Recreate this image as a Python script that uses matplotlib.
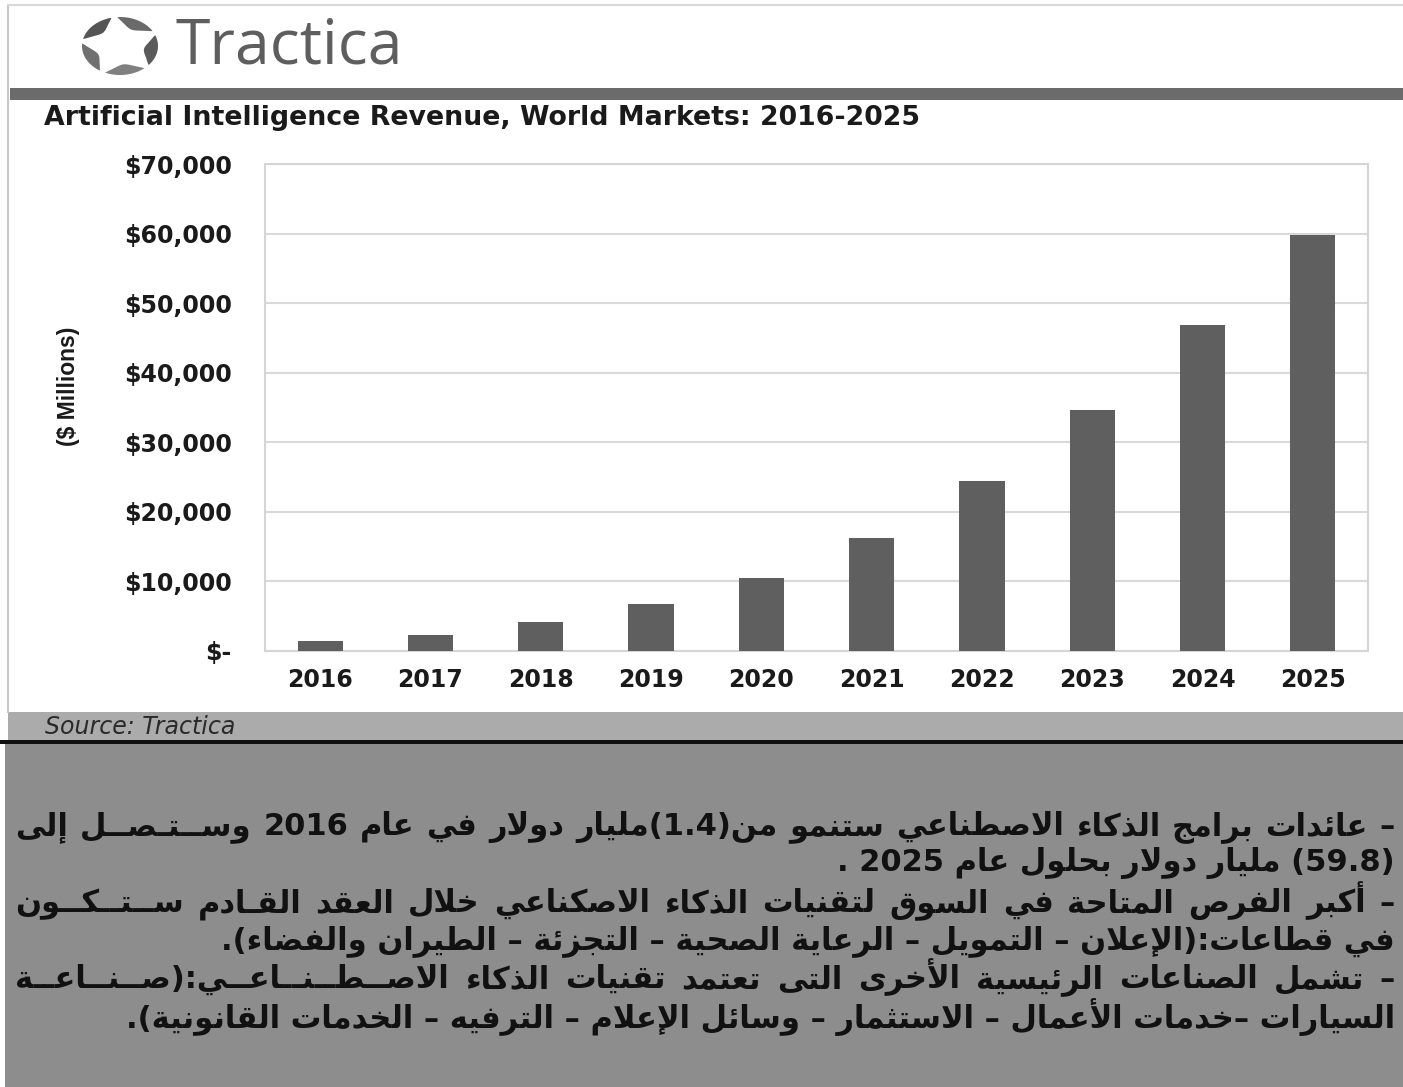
import re
import numpy as np
import matplotlib
matplotlib.use("Agg")
import matplotlib.pyplot as plt
from matplotlib.patches import Rectangle, Polygon

# ---------------- data ----------------
years = ['2016', '2017', '2018', '2019', '2020', '2021', '2022', '2023', '2024', '2025']
revenue = [1400, 2300, 4100, 6700, 10500, 16300, 24400, 34600, 46800, 59800]
y_ticks = [0, 10000, 20000, 30000, 40000, 50000, 60000, 70000]
y_tick_labels = ['$-', '$10,000', '$20,000', '$30,000', '$40,000', '$50,000', '$60,000', '$70,000']
title = 'Artificial Intelligence Revenue, World Markets: 2016-2025'
y_label = '($ Millions)'
source = 'Source: Tractica'
brand = 'Tractica'
arabic_lines = [
    '– عائدات برامج الذكاء الاصطناعي ستنمو من(1.4)مليار دولار في عام 2016 وســتـصــل إلى',
    '(59.8) مليار دولار بحلول عام 2025 .',
    '– أكبر الفرص المتاحة في السوق لتقنيات الذكاء الاصكناعي خلال العقد القـادم ســتــكــون',
    'في قطاعات:(الإعلان – التمويل – الرعاية الصحية – التجزئة – الطيران والفضاء).',
    '– تشمل الصناعات الرئيسية الأخرى التى تعتمد تقنيات الذكاء الاصــطــنــاعــي:(صــنــاعــة',
    'السيارات –خدمات الأعمال – الاستثمار – وسائل الإعلام – الترفيه – الخدمات القانونية).',
]
justified = [True, False, True, False, True, False]

# ---------------- minimal Arabic shaping + RTL ordering ----------------
_R = {'\u0622': 0xFE81, '\u0623': 0xFE83, '\u0624': 0xFE85, '\u0625': 0xFE87, '\u0627': 0xFE8D,
      '\u0629': 0xFE93, '\u062F': 0xFEA9, '\u0630': 0xFEAB, '\u0631': 0xFEAD, '\u0632': 0xFEAF,
      '\u0648': 0xFEED, '\u0649': 0xFEEF}
_D = {'\u0626': 0xFE89, '\u0628': 0xFE8F, '\u062A': 0xFE95, '\u062B': 0xFE99, '\u062C': 0xFE9D,
      '\u062D': 0xFEA1, '\u062E': 0xFEA5, '\u0633': 0xFEB1, '\u0634': 0xFEB5, '\u0635': 0xFEB9,
      '\u0636': 0xFEBD, '\u0637': 0xFEC1, '\u0638': 0xFEC5, '\u0639': 0xFEC9, '\u063A': 0xFECD,
      '\u0641': 0xFED1, '\u0642': 0xFED5, '\u0643': 0xFED9, '\u0644': 0xFEDD, '\u0645': 0xFEE1,
      '\u0646': 0xFEE5, '\u0647': 0xFEE9, '\u064A': 0xFEF1}
_LA = {'\u0622': 0xFEF5, '\u0623': 0xFEF7, '\u0625': 0xFEF9, '\u0627': 0xFEFB}
_MIRROR = {'(': ')', ')': '('}


def _shape(s):
    toks = []
    i = 0
    while i < len(s):
        c = s[i]
        if c == '\u0644' and i + 1 < len(s) and s[i + 1] in _LA:
            toks.append(('LA', s[i + 1]))
            i += 2
        else:
            toks.append(('C', c))
            i += 1

    def jt(t):
        k, c = t
        if k == 'LA':
            return 'R'
        if c in _D:
            return 'D'
        if c in _R:
            return 'R'
        if c == '\u0640':
            return 'T'
        return 'U'

    types = [jt(t) for t in toks]
    out = []
    for i, (k, c) in enumerate(toks):
        t = types[i]
        prev_t = types[i - 1] if i > 0 else 'U'
        next_t = types[i + 1] if i + 1 < len(toks) else 'U'
        jp = t in ('D', 'R', 'T') and prev_t in ('D', 'T')
        jn = t in ('D', 'T') and next_t in ('D', 'R', 'T')
        if k == 'LA':
            out.append(chr(_LA[c] + (1 if jp else 0)))
        elif t == 'D':
            b = _D[c]
            if jp and jn:
                out.append(chr(b + 3))
            elif jp:
                out.append(chr(b + 1))
            elif jn:
                out.append(chr(b + 2))
            else:
                out.append(chr(b))
        elif t == 'R':
            out.append(chr(_R[c] + (1 if jp else 0)))
        elif c == '\u0621':
            out.append('\uFE80')
        else:
            out.append(c)
    return ''.join(out)


def rtl(s):
    s = _shape(s)
    runs = re.split(r'([0-9]+(?:[.,][0-9]+)*)', s)
    vis = []
    for k, r in enumerate(runs):
        if k % 2 == 1:
            vis.append(r)
        else:
            vis.append(''.join(_MIRROR.get(ch, ch) for ch in reversed(r)))
    return ''.join(reversed(vis))


# ---------------- figure ----------------
W, H = 1403, 1087
fig = plt.figure(figsize=(W / 100, H / 100), dpi=100)
fig.patch.set_facecolor('white')
renderer = fig.canvas.get_renderer()

bg = fig.add_axes([0, 0, 1, 1], zorder=0)
bg.set_xlim(0, W)
bg.set_ylim(H, 0)
bg.axis('off')

# upper frame
bg.plot([8, 8], [5, 712], color='#c8c8c8', lw=1.5)
bg.plot([8, W], [5, 5], color='#d8d8d8', lw=1.5)
# dark header band
bg.add_patch(Rectangle((10, 88), W - 10, 12, facecolor='#6b6b6b', edgecolor='none'))
# source band
bg.add_patch(Rectangle((8, 712), W - 8, 29, facecolor='#ababab', edgecolor='none'))
# black separator
bg.add_patch(Rectangle((0, 740), W, 4, facecolor='#111111', edgecolor='none'))
# lower gray panel
bg.add_patch(Rectangle((5, 744), W - 5, H - 744, facecolor='#8d8d8d', edgecolor='none'))

# logo: five lens-shaped blades arranged in an elliptical ring
cx, cy, rx, ry = 120, 46, 38, 29
shades = ['#555555', '#707070', '#808080', '#5a5a5a', '#6a6a6a']
for k in range(5):
    a0 = np.deg2rad(103 + k * 72)
    t = np.linspace(0, 1, 40)
    ang = a0 + t * np.deg2rad(63)
    thick = 0.36 * np.sin(np.pi * t) ** 0.8
    ox, oy = cx + rx * np.cos(ang), cy - ry * np.sin(ang)
    ix = cx + rx * (1 - thick) * np.cos(ang[::-1])
    iy = cy - ry * (1 - thick) * np.sin(ang[::-1])
    pts = np.column_stack([np.concatenate([ox, ix]), np.concatenate([oy, iy])])
    bg.add_patch(Polygon(pts, closed=True, facecolor=shades[k], edgecolor='none'))

bg.text(176, 47, brand, fontsize=45, family='Open Sans', color='#5e5e5e',
        va='center', ha='left')

bg.text(44, 118, title, fontsize=19.3, family='DejaVu Sans', fontweight='bold',
        color='#1a1a1a', va='center', ha='left')

bg.text(68, 386, y_label, fontsize=16.5, family='Liberation Sans', fontweight='bold',
        color='#1a1a1a', rotation=90, va='center', ha='center')

bg.text(45, 727, source, fontsize=17, family='DejaVu Sans', style='italic',
        color='#2a2a2a', va='center', ha='left')

# Arabic paragraph, right aligned; full lines justified word by word
AR_SIZE = 22
X_RIGHT, X_LEFT = 1395, 15
baselines = [835, 871, 912, 949, 988, 1028]
for line, yb, just in zip(arabic_lines, baselines, justified):
    kw = dict(fontsize=AR_SIZE, family=['DejaVu Sans'], fontweight='bold',
              color='#111111', va='baseline')
    if not just:
        bg.text(X_RIGHT, yb, rtl(line), ha='right', **kw)
        continue
    words = line.split()
    texts, widths = [], []
    for w in words:
        tx = bg.text(0, yb, rtl(w), ha='left', **kw)
        texts.append(tx)
        widths.append(tx.get_window_extent(renderer).width)
    gap = (X_RIGHT - X_LEFT - sum(widths)) / (len(words) - 1)
    gap = max(gap, 6)
    x = X_RIGHT
    for tx, wd in zip(texts, widths):
        tx.set_x(x - wd)
        x -= wd + gap

# ---------------- chart ----------------
x0, x1 = 265, 1368
yt, yb0 = 164, 651
ax = fig.add_axes([x0 / W, 1 - yb0 / H, (x1 - x0) / W, (yb0 - yt) / H], zorder=2)
ax.set_facecolor('white')
xpos = np.arange(len(years))
ax.bar(xpos, revenue, width=0.41, color='#5f5f5f', zorder=3)
ax.set_xlim(-0.5, len(years) - 0.5)
ax.set_ylim(0, 70000)
ax.set_yticks(y_ticks)
ax.set_yticklabels(y_tick_labels)
ax.set_xticks(xpos)
ax.set_xticklabels(years)
ax.yaxis.grid(True, color='#d9d9d9', lw=1.5, zorder=0)
ax.set_axisbelow(True)
for sp in ax.spines.values():
    sp.set_color('#d5d5d5')
    sp.set_linewidth(1.5)
ax.tick_params(axis='both', length=0)
ax.tick_params(axis='y', pad=24)
ax.tick_params(axis='x', pad=12)
for lab in ax.get_yticklabels() + ax.get_xticklabels():
    lab.set_family('DejaVu Sans')
    lab.set_fontweight('bold')
    lab.set_fontsize(17)
    lab.set_color('#1a1a1a')

fig.savefig('out.png', dpi=100, facecolor=fig.get_facecolor())
